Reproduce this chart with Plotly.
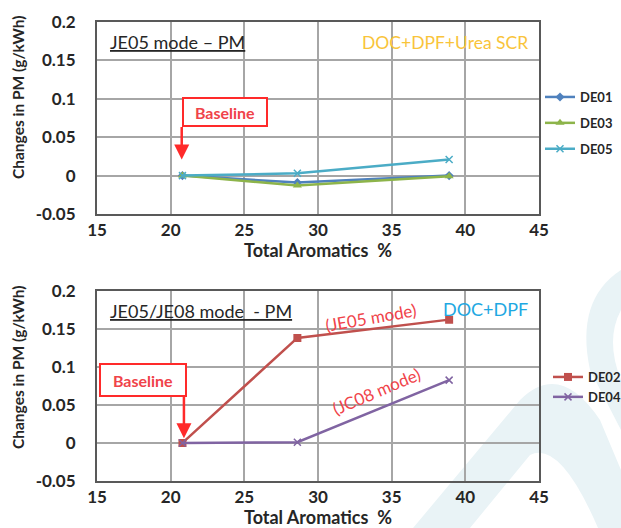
import plotly.graph_objects as go

# ---------------- data ----------------
aromatics = [20.8, 28.6, 38.9]

top_names = ["DE01", "DE03", "DE05"]
de01 = [0.0, -0.009, 0.0]
de03 = [0.0, -0.013, -0.001]
de05 = [0.0, 0.003, 0.021]

bottom_names = ["DE02", "DE04"]
de02 = [0.0, 0.138, 0.162]
de04 = [0.0, 0.001, 0.0825]

x_ticks = [15, 20, 25, 30, 35, 40, 45]
y_ticks = [-0.05, 0, 0.05, 0.1, 0.15, 0.2]
y_tick_text = ["-0.05", "0", "0.05", "0.1", "0.15", "0.2"]

W, H = 621, 528
FONT = "Lato"
DARK = "#262626"
RED = "#F0434A"

fig = go.Figure()

top_styles = [
    dict(color="#4F81BD", symbol="diamond", size=7),
    dict(color="#8DB44A", symbol="triangle-up", size=8),
    dict(color="#4BACC6", symbol="x-thin", size=7),
]
for name, ys, st in zip(top_names, [de01, de03, de05], top_styles):
    marker = dict(symbol=st["symbol"], size=st["size"], color=st["color"])
    if st["symbol"] == "x-thin":
        marker["line"] = dict(color=st["color"], width=1.5)
    fig.add_trace(go.Scatter(
        x=aromatics, y=ys, name=name, mode="lines+markers",
        line=dict(color=st["color"], width=2.5), marker=marker,
        xaxis="x", yaxis="y", legend="legend", legendgroup=name,
    ))

bottom_styles = [
    dict(color="#C0504D", symbol="square", size=8),
    dict(color="#8064A2", symbol="x-thin", size=7),
]
for name, ys, st in zip(bottom_names, [de02, de04], bottom_styles):
    marker = dict(symbol=st["symbol"], size=st["size"], color=st["color"])
    if st["symbol"] == "x-thin":
        marker["line"] = dict(color=st["color"], width=1.5)
    fig.add_trace(go.Scatter(
        x=aromatics, y=ys, name=name, mode="lines+markers",
        line=dict(color=st["color"], width=2.5), marker=marker,
        xaxis="x2", yaxis="y2", legend="legend2",
    ))

tickfont = dict(family=FONT, size=17, color=DARK, weight="bold")
xdom = [97 / W, 539 / W]
ydom_top = [1 - 214 / H, 1 - 22 / H]
ydom_bot = [1 - 481 / H, 1 - 290.7 / H]

def xax(anchor):
    return dict(domain=xdom, range=[15, 45], tickvals=x_ticks, anchor=anchor,
                showgrid=True, gridcolor="#A6A6A6", gridwidth=1.5,
                showline=True, linecolor="#595959", linewidth=2, mirror=True,
                zeroline=False, ticks="", tickfont=tickfont, ticklabelstandoff=0,
                automargin=False, fixedrange=True)

def yax(anchor, dom):
    return dict(domain=dom, range=[-0.05, 0.2], tickvals=y_ticks, ticktext=y_tick_text,
                anchor=anchor, showgrid=True, gridcolor="#A6A6A6", gridwidth=1.5,
                showline=True, linecolor="#595959", linewidth=2, mirror=True,
                zeroline=False, ticks="", tickfont=tickfont, ticklabelstandoff=16,
                automargin=False, fixedrange=True)

annotations = []
def ann(**kw):
    annotations.append(kw)

# axis titles
for yc in [1 - 98 / H, 1 - 368 / H]:
    ann(x=18 / W, y=yc, xref="paper", yref="paper", xanchor="center", yanchor="middle",
        text="Changes in PM (g/kWh)", textangle=-90, showarrow=False,
        font=dict(family=FONT, size=15.5, color=DARK, weight="bold"))
for yc in [1 - 250 / H, 1 - 517 / H]:
    ann(x=318 / W, y=yc, xref="paper", yref="paper", xanchor="center", yanchor="middle",
        text="Total Aromatics  %", showarrow=False,
        font=dict(family=FONT, size=18, color=DARK, weight="bold"))

# titles inside plots
ann(x=15.75, y=0.2 - (42 - 22) / 768, xref="x", yref="y", xanchor="left",
    text="<u>JE05 mode – PM</u>", showarrow=False,
    font=dict(family=FONT, size=18, color=DARK))
ann(x=15.75, y=0.2 - (311 - 290.7) / 760, xref="x2", yref="y2", xanchor="left",
    text="<u>JE05/JE08 mode  - PM</u>", showarrow=False,
    font=dict(family=FONT, size=18, color=DARK))
ann(x=44.4, y=0.2 - (43 - 22) / 768, xref="x", yref="y", xanchor="right",
    text="DOC+DPF+Urea SCR", showarrow=False,
    font=dict(family=FONT, size=17.5, color="#F9C43A"))
ann(x=44.4, y=0.2 - (309 - 290.7) / 760, xref="x2", yref="y2", xanchor="right",
    text="DOC+DPF", showarrow=False,
    font=dict(family=FONT, size=18, color="#1EA8E2"))

# baseline boxes + arrows
ann(x=20.77, y=0.1025, xref="x", yref="y", xanchor="left", yanchor="top",
    text="<b>Baseline</b>", showarrow=False, width=80, height=24,
    bordercolor="#FF2A2A", borderwidth=2, bgcolor="white",
    font=dict(family=FONT, size=16, color=RED))
ann(x=20.75, y=0.021, xref="x", yref="y", ax=0, ay=-34, text="",
    showarrow=True, arrowhead=2, arrowsize=1.2, arrowwidth=2.5, arrowcolor="#FF2A2A")
ann(x=15.15, y=0.105, xref="x2", yref="y2", xanchor="left", yanchor="top",
    text="<b>Baseline</b>", showarrow=False, width=82, height=28,
    bordercolor="#FF2A2A", borderwidth=2, bgcolor="white",
    font=dict(family=FONT, size=16, color=RED))
ann(x=20.9, y=0.006, xref="x2", yref="y2", ax=0, ay=-43, text="",
    showarrow=True, arrowhead=2, arrowsize=1.2, arrowwidth=2.5, arrowcolor="#FF2A2A")

# mode labels
ann(x=15 + (371 - 97) / 14.73, y=(444 - 319) / 760, xref="x2", yref="y2",
    text="(JE05 mode)", textangle=-10, showarrow=False,
    font=dict(family=FONT, size=17, color=RED))
ann(x=15 + (376 - 97) / 14.73, y=(444 - 393) / 760, xref="x2", yref="y2",
    text="(JC08 mode)", textangle=-23, showarrow=False,
    font=dict(family=FONT, size=17, color=RED))

# faint watermark shapes (background decoration)
WM = "#E9F3F6"
def P(px, py):
    return f"{px / W:.4f},{1 - py / H:.4f}"
shapes = [
    dict(type="path", xref="paper", yref="paper", layer="below", line=dict(width=0),
         fillcolor=WM,
         path=f"M{P(413,528)} L{P(520,400)} Q{P(560,360)} {P(600,420)} L{P(621,470)} "
              f"L{P(621,528)} L{P(598,528)} Q{P(560,440)} {P(530,455)} L{P(470,528)} Z"),
    dict(type="path", xref="paper", yref="paper", layer="below", line=dict(width=0),
         fillcolor=WM,
         path=f"M{P(621,270)} Q{P(575,300)} {P(590,370)} L{P(621,430)} L{P(621,380)} "
              f"Q{P(605,340)} {P(621,310)} Z"),
]

fig.update_layout(
    width=W, height=H, autosize=False,
    margin=dict(l=0, r=0, t=0, b=0, autoexpand=False),
    paper_bgcolor="white", plot_bgcolor="rgba(0,0,0,0)",
    xaxis=xax("y"), yaxis=yax("x", ydom_top),
    xaxis2=xax("y2"), yaxis2=yax("x2", ydom_bot),
    annotations=annotations, shapes=shapes,
    legend=dict(x=540 / W, y=1 - 82 / H, xanchor="left", yanchor="top",
                font=dict(family=FONT, size=13, color=DARK, weight="bold"),
                itemwidth=30, tracegroupgap=6, bgcolor="rgba(0,0,0,0)"),
    legend2=dict(x=548 / W, y=1 - 362 / H, xanchor="left", yanchor="top",
                 font=dict(family=FONT, size=13, color=DARK, weight="bold"),
                 itemwidth=30, bgcolor="rgba(0,0,0,0)"),
    showlegend=True,
)

fig.write_html(
    "out.html",
    config={"displayModeBar": False},
    post_script="document.body.style.margin='0';document.body.style.padding='0';"
                "document.body.style.overflow='hidden';",
)
